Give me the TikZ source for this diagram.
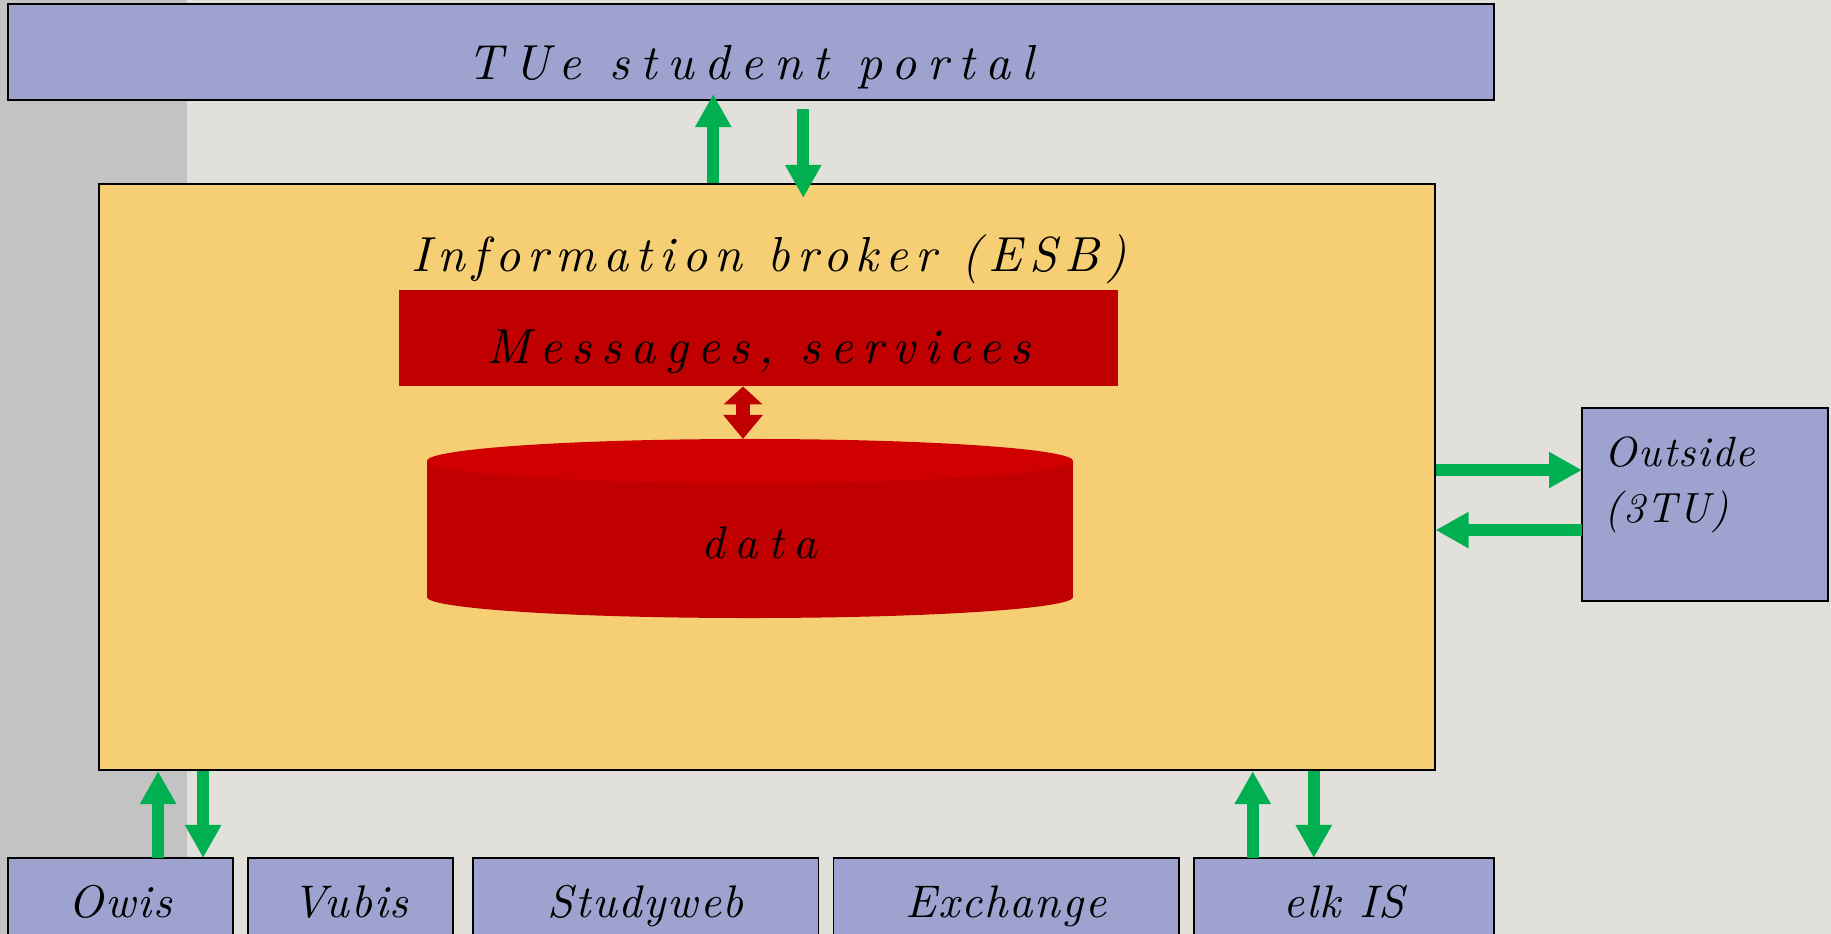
\documentclass[tikz,border=0pt]{standalone}
\usepackage{fontspec}
\setmainfont{lmroman10}[Extension=.otf, UprightFont=*-regular, BoldFont=*-bold,
    ItalicFont=*-italic, BoldItalicFont=*-bolditalic]
\usepackage{xcolor}
\usepackage{tikz}
\usetikzlibrary{positioning,arrows.meta}

\definecolor{portalblue}{RGB}{157,162,206}
\definecolor{brokeryellow}{RGB}{246,207,117}
\definecolor{busred}{RGB}{192,0,0}
\definecolor{dbtopred}{RGB}{208,0,0}
\definecolor{flowgreen}{RGB}{0,176,80}
\definecolor{slidebg}{RGB}{226,224,219}
\definecolor{slidegray}{RGB}{195,195,195}

\begin{document}
\begin{tikzpicture}[
    x=0.01cm, y=-0.01cm,
    system/.style={
        rectangle,draw,fill=portalblue,line width=0.5pt,
        inner xsep=0pt,inner ysep=0pt,outer sep=0pt,
        minimum height=0.84cm,
        text height=0.59cm,text depth=0.25cm,
        font=\fontsize{13}{15}\selectfont\itshape\addfontfeatures{LetterSpace=4}
    },
    flow/.style={
        -{Triangle[width=0.34cm,length=0.33cm]},
        line width=0.12cm,draw=flowgreen
    }
]
\useasboundingbox (0,0) rectangle (1831,934);
\clip (0,0) rectangle (1831,934);
\fill[slidebg] (0,0) rectangle (1831,934);
\fill[slidegray] (0,0) rectangle (187,934);

\node[system, anchor=north west, minimum width=14.85cm, minimum height=0.96cm,
      text height=0.75cm, text depth=0.21cm,
      font=\fontsize{14}{16}\selectfont\itshape\addfontfeatures{LetterSpace=22}]
      (portal) at (8,4) {TUe student portal};

\node[rectangle, draw, fill=brokeryellow, line width=0.5pt, anchor=north west,
      minimum width=13.35cm, minimum height=5.86cm] (ib) at (98,183) {};
\node[anchor=base, font=\fontsize{14}{16}\selectfont\itshape\addfontfeatures{LetterSpace=15}]
      (ibtitle) at (769,272) {Information broker (ESB)};

\node[rectangle, fill=busred, anchor=north west, inner sep=0pt,
      minimum width=7.19cm, minimum height=0.96cm,
      text height=0.74cm, text depth=0.22cm,
      font=\fontsize{14}{16}\selectfont\itshape\addfontfeatures{LetterSpace=19}]
      (msg) at (398,289) {Messages, services};

% data store
\fill[busred] (427,461) rectangle (1073,597);
\fill[busred] (750,597) ellipse [x radius=3.23cm, y radius=0.21cm];
\fill[dbtopred] (750,461) ellipse [x radius=3.23cm, y radius=0.22cm];
\coordinate (dbtop) at (743,439);
\node[anchor=base, font=\fontsize{13}{15}\selectfont\itshape\addfontfeatures{LetterSpace=22}]
      (data) at (759,558) {data};

\draw[{Triangle[width=0.38cm,length=0.18cm]}-{Triangle[width=0.38cm,length=0.24cm]},
      line width=0.14cm, draw=busred] (msg.south -| dbtop) -- (dbtop);

\node[system, anchor=north west, minimum width=2.46cm, minimum height=1.93cm]
      (outside) at (1582,408) {};
\node[anchor=base west, align=left, inner sep=0pt,
      font=\fontsize{12}{16}\selectfont\itshape\addfontfeatures{LetterSpace=4}]
      (outsidelbl) at (1604,523) {Outside\\(3TU)};

% source systems
\node[system, anchor=north west, minimum width=2.25cm] (owis) at (8,858) {Owis};
\node[system, minimum width=2.05cm, right=0.15cm of owis] (vubis) {Vubis};
\node[system, minimum width=3.45cm, right=0.2cm of vubis] (studyweb) {Studyweb};
\node[system, minimum width=3.45cm, right=0.15cm of studyweb] (exchange) {Exchange};
\node[system, minimum width=3cm, right=0.15cm of exchange] (elkis) {elk IS};

% flows
\draw[flow, shorten >=-0.06cm] ([xshift=-5.35mm]ib.north) -- ([xshift=-5.35mm]ib.north |- portal.south);
\draw[flow, shorten <=0.09cm, shorten >=-0.15cm] ([xshift=3.65mm]ib.north |- portal.south) -- ([xshift=3.65mm]ib.north);
\draw[flow] ([yshift=0.7mm]ib.east) -- ([yshift=0.7mm]ib.east -| outside.west);
\draw[flow] ([yshift=-5.3mm]ib.east -| outside.west) -- ([yshift=-5.3mm]ib.east);
\draw[flow] ([xshift=3.75mm]owis.north) -- ([xshift=3.75mm]owis.north |- ib.south);
\draw[flow] ([xshift=8.25mm]owis.north |- ib.south) -- ([xshift=8.25mm]owis.north);
\draw[flow] ([xshift=-9.1mm]elkis.north) -- ([xshift=-9.1mm]elkis.north |- ib.south);
\draw[flow] ([xshift=-3mm]elkis.north |- ib.south) -- ([xshift=-3mm]elkis.north);
\end{tikzpicture}
\end{document}
